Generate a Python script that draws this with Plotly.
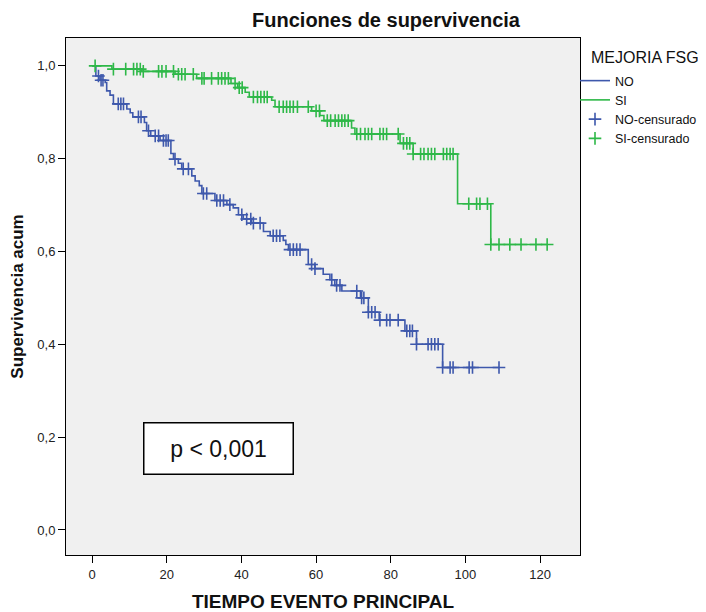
import numpy as np
import plotly.graph_objects as go

# ---- data ----
no_event_t = [1.0, 2.1, 3.5, 3.9, 4.8, 5.7, 9.3, 10.2, 10.9, 14.0, 14.6, 15.7, 18.2, 21.1, 21.8,
              23.1, 24.0, 26.7, 27.6, 28.7, 29.4, 32.9, 36.1, 37.8, 39.2, 40.5, 42.7, 45.9, 47.7,
              51.2, 51.9, 52.6, 57.9, 59.7, 61.9, 63.7, 65.0, 66.9, 71.9, 74.0, 76.9, 83.8, 86.9, 93.9]
no_surv = [0.978, 0.969, 0.964, 0.946, 0.937, 0.918, 0.907, 0.899, 0.890, 0.878, 0.860, 0.849, 0.839,
           0.811, 0.799, 0.790, 0.778, 0.763, 0.752, 0.742, 0.725, 0.710, 0.701, 0.694, 0.679, 0.670,
           0.661, 0.643, 0.634, 0.624, 0.615, 0.604, 0.572, 0.563, 0.551, 0.539, 0.527, 0.515, 0.500,
           0.469, 0.452, 0.429, 0.400, 0.350]
no_censor_t = [1.7, 2.4, 2.9, 7.0, 7.7, 8.4, 12.4, 13.1, 15.1, 16.9, 17.8, 19.1, 19.8, 20.4, 22.2,
               24.4, 25.8, 29.8, 30.7, 33.4, 34.3, 35.2, 36.9, 40.1, 41.4, 42.5, 43.2, 45.0, 48.5,
               49.4, 50.3, 53.0, 53.9, 54.8, 55.7, 58.8, 59.7, 64.2, 65.5, 66.4, 70.9, 72.2, 72.8,
               74.0, 74.9, 75.8, 77.1, 78.9, 79.8, 82.0, 84.3, 85.1, 85.8, 86.9, 90.0, 90.9, 91.8,
               92.7, 93.9, 95.9, 96.7, 101.0, 101.9, 109.0]

si_event_t = [5.3, 13.3, 22.2, 28.0, 37.2, 39.0, 41.0, 42.1, 48.1, 49.0, 58.8, 61.0, 62.1, 69.5,
              70.4, 82.5, 86.0, 97.9, 106.8]
si_surv = [0.993, 0.988, 0.982, 0.973, 0.962, 0.953, 0.943, 0.933, 0.926, 0.912, 0.903, 0.893,
           0.882, 0.866, 0.853, 0.833, 0.810, 0.703, 0.615]
si_censor_t = [0.8, 5.7, 9.0, 11.1, 12.0, 12.9, 13.7, 17.8, 18.7, 19.8, 21.8, 23.1, 24.0, 24.9, 27.1,
               29.4, 30.0, 32.0, 33.8, 34.7, 35.6, 36.5, 38.3, 39.4, 40.2, 43.2, 44.3, 45.2, 46.1,
               46.9, 50.1, 51.2, 52.1, 53.0, 53.9, 55.0, 57.9, 60.0, 60.9, 63.0, 63.9, 65.1, 66.0,
               66.9, 67.7, 68.6, 70.9, 71.9, 73.1, 74.0, 74.9, 77.1, 78.0, 78.9, 82.0, 83.4, 84.3,
               85.1, 86.0, 88.0, 88.9, 90.0, 90.9, 91.8, 94.1, 95.0, 95.9, 96.7, 100.9, 103.0,
               103.9, 105.9, 106.8, 109.0, 111.9, 114.9, 118.9, 121.9]

x_ticks = [0, 20, 40, 60, 80, 100, 120]
y_ticks = [0.0, 0.2, 0.4, 0.6, 0.8, 1.0]

BLUE = "#3E58AC"
GREEN = "#2EB848"


def step_curve(ev_t, surv, cens_t):
    xs = [0.0] + list(ev_t) + [max(max(cens_t), max(ev_t))]
    ys = [1.0] + list(surv) + [surv[-1]]
    return xs, ys


def censor_y(ev_t, surv, cens_t):
    ev = np.asarray(ev_t)
    s = np.concatenate([[1.0], np.asarray(surv)])
    idx = np.searchsorted(ev, np.asarray(cens_t), side="right")
    return s[idx]


fig = go.Figure()
for name, ev, sv, ce, col in [("NO", no_event_t, no_surv, no_censor_t, BLUE),
                              ("SI", si_event_t, si_surv, si_censor_t, GREEN)]:
    xs, ys = step_curve(ev, sv, ce)
    fig.add_trace(go.Scatter(x=xs, y=ys, mode="lines", line=dict(color=col, width=1.6, shape="hv"),
                             name=name))
for name, ev, sv, ce, col in [("NO-censurado", no_event_t, no_surv, no_censor_t, BLUE),
                              ("SI-censurado", si_event_t, si_surv, si_censor_t, GREEN)]:
    fig.add_trace(go.Scatter(x=ce, y=censor_y(ev, sv, ce), mode="markers",
                             marker=dict(symbol="cross-thin", size=9, line=dict(color=col, width=1.6)),
                             name=name))

# the page adds an 8px body margin, so the figure is drawn 8px smaller and offset
OFF = 8
W, H = 706 - OFF, 612 - OFF
L, R, T, B = 66 - OFF, 706 - 580, 38 - OFF, 612 - 555
PW, PH = W - L - R, H - T - B


def px(xs):
    return (xs - OFF - L) / PW


def py(ys):
    return (H - B - (ys - OFF)) / PH


font_family = "Liberation Sans, Arial, sans-serif"
fig.update_layout(
    width=W, height=H,
    margin=dict(l=L, r=R, t=T, b=B, autoexpand=False),
    paper_bgcolor="white", plot_bgcolor="#f0f0f0",
    separators=",.",
    font=dict(family=font_family, size=13, color="#222"),
    title=dict(text="<b>Funciones de supervivencia</b>", x=(386 - OFF) / W, xanchor="center",
               yref="container", y=1 - 5 / H, yanchor="top", font=dict(size=20, color="#111")),
    xaxis=dict(range=[-7.0, 130.7], tickvals=x_ticks, ticks="outside", ticklen=7, tickcolor="black",
               showgrid=False, zeroline=False, showline=True, mirror=True, linecolor="black",
               linewidth=1, tickfont=dict(size=13), automargin=False,
               title=dict(text="<b>TIEMPO EVENTO PRINCIPAL</b>", font=dict(size=19, color="#111"),
                          standoff=14)),
    yaxis=dict(range=[-0.054, 1.060], tickvals=y_ticks, tickformat=".1f", ticks="outside", ticklen=7,
               tickcolor="black", showgrid=False, zeroline=False, showline=True, mirror=True,
               linecolor="black", linewidth=1, tickfont=dict(size=13), automargin=False,
               title=dict(text="<b>Supervivencia acum</b>", font=dict(size=17, color="#111"),
                          standoff=10)),
    legend=dict(x=px(575), xanchor="left", y=py(66), yanchor="top",
                bgcolor="rgba(0,0,0,0)", font=dict(size=12.5, color="#111"),
                tracegroupgap=0, itemwidth=30),
    annotations=[
        dict(text="MEJORIA FSG", xref="paper", yref="paper", x=px(589),
             y=py(57), xanchor="left", yanchor="middle", showarrow=False,
             font=dict(size=16, color="#111")),
        dict(text="p < 0,001", xref="paper", yref="paper",
             x=px(143), y=py(422), xanchor="left", yanchor="top",
             showarrow=False, font=dict(size=23, color="#111"),
             bgcolor="white", bordercolor="black", borderwidth=1.5,
             width=146, height=48, align="center"),
    ],
)

fig.write_html("out.html")
